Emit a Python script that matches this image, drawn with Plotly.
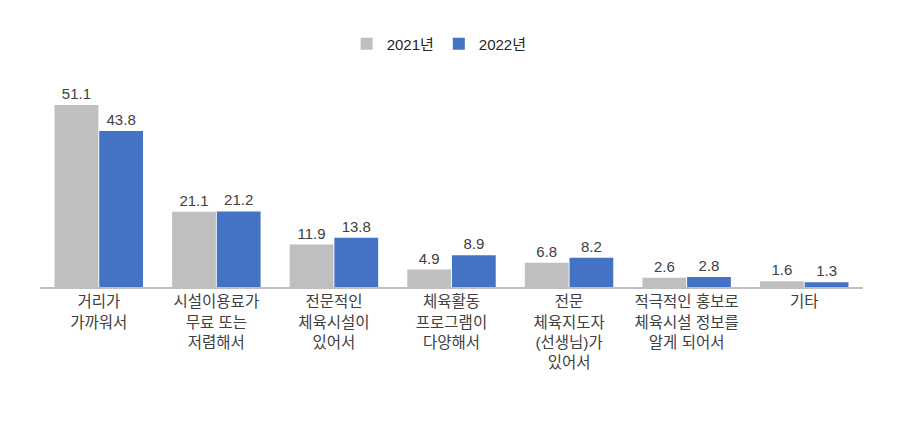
import plotly.graph_objects as go

# Categories (x-axis labels, line breaks as in the original)
categories = [
    '거리가<br>가까워서',
    '시설이용료가<br>무료 또는<br>저렴해서',
    '전문적인<br>체육시설이<br>있어서',
    '체육활동<br>프로그램이<br>다양해서',
    '전문<br>체육지도자<br>(선생님)가<br>있어서',
    '적극적인 홍보로<br>체육시설 정보를<br>알게 되어서',
    '기타',
]
values_2021 = [51.1, 21.1, 11.9, 4.9, 6.8, 2.6, 1.6]
values_2022 = [43.8, 21.2, 13.8, 8.9, 8.2, 2.8, 1.3]

FONT = 'Liberation Sans, Noto Sans CJK KR'
TEXT_COLOR = '#404040'

fig = go.Figure()
fig.add_trace(go.Bar(
    x=categories, y=values_2021, name='2021년',
    marker=dict(color='#BFBFBF', line=dict(width=0)),
    text=[f'{v:.1f}' for v in values_2021], textposition='outside',
    textfont=dict(size=15, color=TEXT_COLOR), cliponaxis=False,
))
fig.add_trace(go.Bar(
    x=categories, y=values_2022, name='2022년',
    marker=dict(color='#4472C4', line=dict(width=0)),
    text=[f'{v:.1f}' for v in values_2022], textposition='outside',
    textfont=dict(size=15, color=TEXT_COLOR), cliponaxis=False,
))

fig.update_layout(
    width=900, height=430,
    margin=dict(l=32, r=45, t=83, b=151),
    paper_bgcolor='white', plot_bgcolor='white',
    font=dict(family=FONT, size=15, color=TEXT_COLOR),
    barmode='group', bargap=0.24, bargroupgap=0.02,
    showlegend=True,
    legend=dict(orientation='h', x=0.485, xanchor='center', y=1.24, yanchor='middle',
                font=dict(size=15, color='#262626'), itemwidth=30),
    xaxis=dict(showline=True, linecolor='#BFBFBF', linewidth=1.5, ticks='',
               tickfont=dict(size=15.5, color=TEXT_COLOR), tickangle=0),
    yaxis=dict(visible=False, range=[0, 55], showgrid=False, zeroline=False),
)

fig.write_html('out.html')
